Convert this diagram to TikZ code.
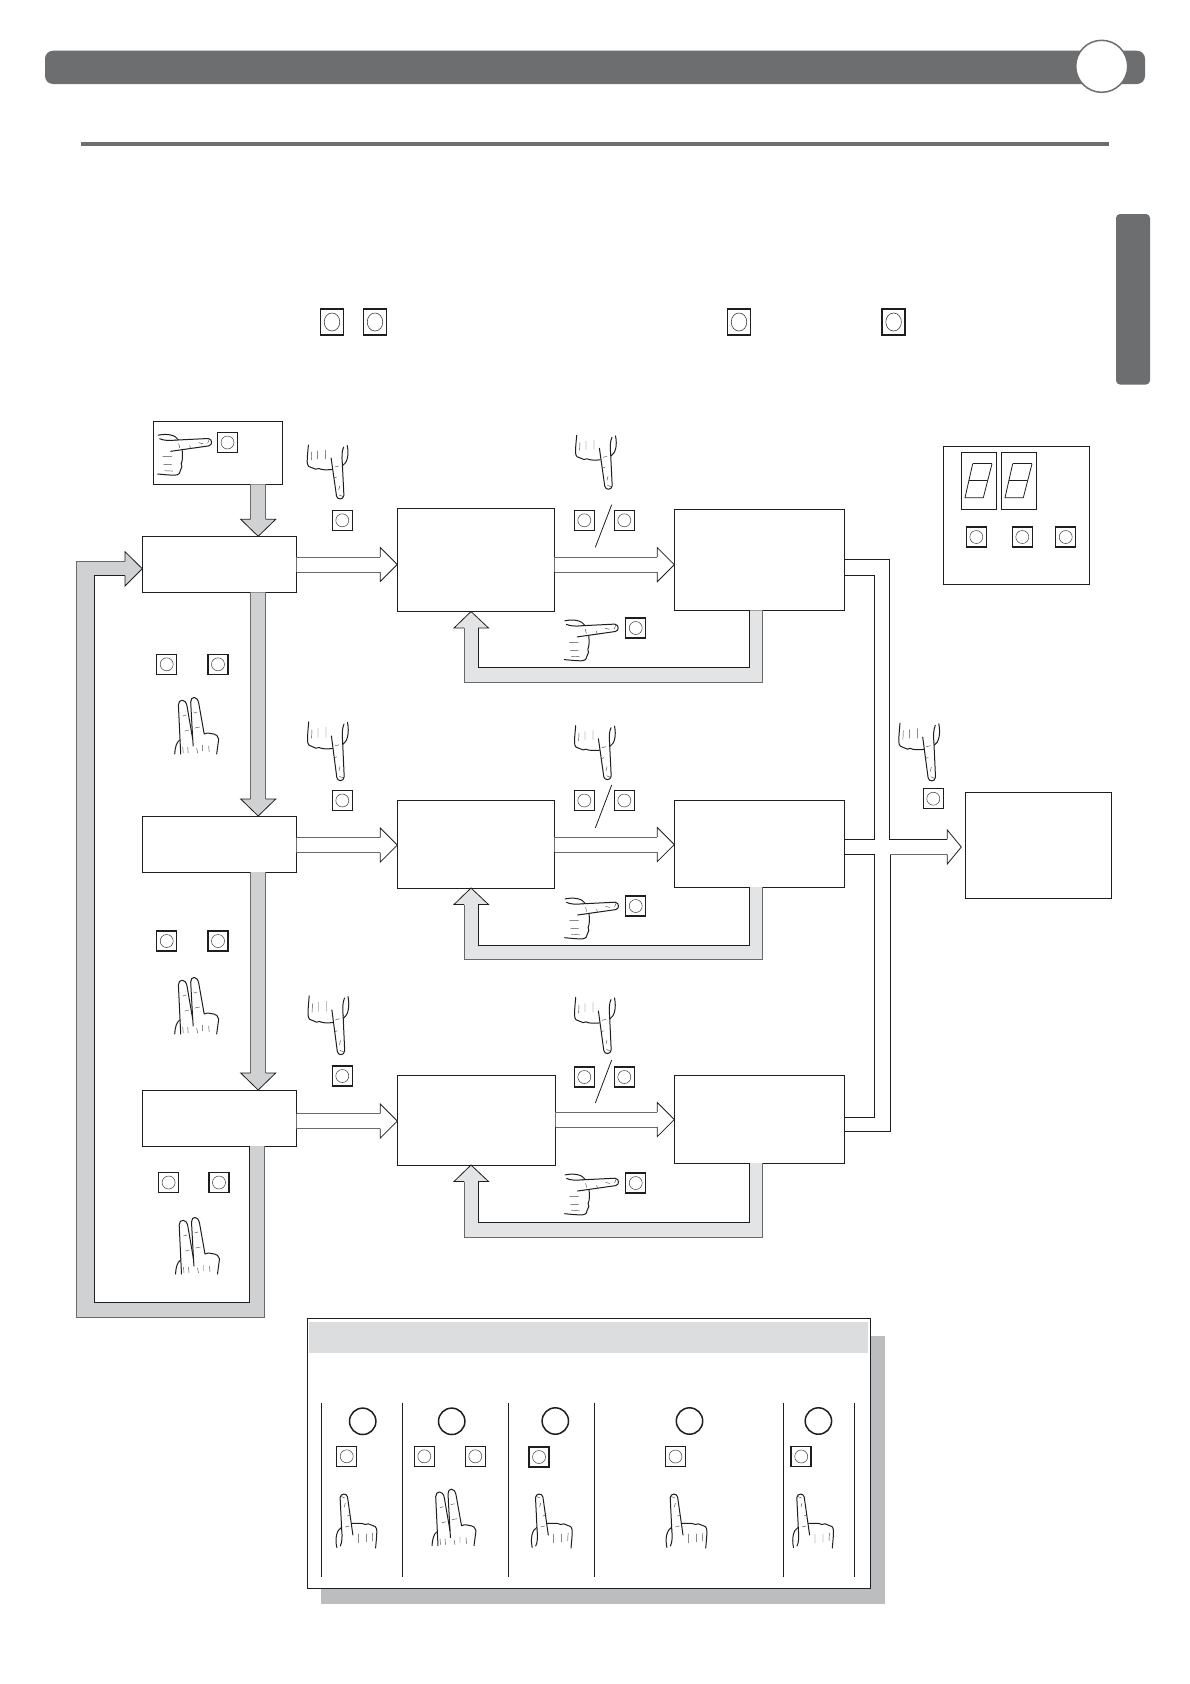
\documentclass[tikz,border=0pt]{standalone}
\usetikzlibrary{calc}
\definecolor{bargrey}{HTML}{6D6E70}
\definecolor{shaftgrey}{HTML}{CFD1D2}
\definecolor{lightgrey}{HTML}{E3E4E5}
\definecolor{edgegrey}{HTML}{6A6A6A}
\definecolor{headgrey}{HTML}{DCDDDE}
\definecolor{shadowgrey}{HTML}{BBBDBF}
\definecolor{inkb}{HTML}{1E1E1E}
\tikzset{
  flowbox/.style={draw=inkb,line width=0.9pt,fill=white,inner sep=0pt,outer sep=0pt,rectangle},
  shaftline/.style={draw=edgegrey,line width=1pt},
  headline/.style={draw=inkb,line width=0.8pt,line join=miter},
  thinline/.style={draw=inkb,line width=0.9pt},
  handline/.style={draw=inkb,line width=1pt,line cap=round,line join=round,fill=none},
  handmark/.style={draw=inkb!80,line width=0.45pt,line cap=round},
  hand/.pic={
    \path[handline] (-32.3,-54) .. controls (-33,-46) and (-33.5,-42) .. (-33.5,-37)
       .. controls (-33.5,-33) and (-31,-31) .. (-28,-31)
       .. controls (-26,-29.5) and (-24,-29.5) .. (-22,-30.5)
       .. controls (-19,-29) and (-14,-29) .. (-8.6,-29.5);
    \path[handline] (-9.6,-41) -- (-4.2,-3) .. controls (-3.5,1) and (2.6,1) .. (3.2,-3.5) -- (1.6,-36);
    \path[handline] (6.5,-53.5) .. controls (8.5,-44) and (6.5,-36) .. (2,-33.5);
    \path[handline] (3,-52) .. controls (1,-48) and (1,-42) .. (1.6,-36);
    \path[handmark] (-29,-47)--(-29.4,-39) (-23,-48)--(-23,-40) (-15,-49)--(-15,-40)
       (-4,-22)--(-7,-21) (-2,-33)--(-6,-32) (-1.5,-4)--(2.2,-2.5) (-1,-13)--(-2,-9);
  },
  twohand/.pic={
    \path[handline] (-2,53) -- (-4.3,4) .. controls (-4.5,-2) and (3,-3) .. (4.3,5) -- (10,38) -- (10.5,45);
    \path[handline] (10,38) -- (8,1) .. controls (8,-5) and (14.5,-5.5) .. (16,2) -- (21.5,33)
       .. controls (25,31) and (29,33) .. (31,33) .. controls (33,33) and (35.5,35) .. (36,38) -- (34,53);
    \path[handline] (-8,53) .. controls (-7.6,46) and (-6,41) .. (-3,39);
    \path[handmark] (0,15)--(3.5,14) (11,12)--(14.5,11) (12,27)--(17,26) (2,30)--(6,29)
       (0,46)--(0.5,52) (14,47)--(15,52) (26,45)--(26.5,51) (5,46)--(5.5,52) (20,44)--(20,50);
  },
  butn/.pic={
    \draw[inkb,line width=1.5pt,fill=white] (-10,-10) rectangle (10,10);
    \draw[inkb!85,line width=0.5pt] (0,0) circle[radius=6.5];
  },
  bigbutn/.pic={
    \draw[inkb,line width=1.5pt,fill=white] (-11.5,-13) rectangle (11.5,13);
    \draw[inkb!85,line width=0.6pt] (0,0) ellipse[x radius=7.8,y radius=9];
  },
  ring/.pic={
    \draw[inkb,line width=1.5pt,fill=white] (0,0) circle[radius=13.2];
  },
}
% box by corners
\newcommand{\cbox}[5]{\node[flowbox,minimum width={((#4)-(#2))*1pt},minimum height={((#5)-(#3))*1pt}] (#1) at ({((#2)+(#4))/2},{((#3)+(#5))/2}) {};}
% horizontal block arrow from node to node at height y
\newcommand{\hblock}[3]{%
  \coordinate (tipH) at (#2.west |- 0,#3);
  \coordinate (stH) at (#1.east |- 0,#3);
  \fill[white] ([shift={(0,-7.5)}]stH) -- ([shift={(-17,-7.5)}]tipH) -- ([shift={(-17,-17)}]tipH) -- (tipH) -- ([shift={(-17,17)}]tipH) -- ([shift={(-17,7.5)}]tipH) -- ([shift={(0,7.5)}]stH) -- cycle;
  \path[shaftline] ([shift={(0,-7.5)}]stH) -- ([shift={(-17,-7.5)}]tipH) ([shift={(0,7.5)}]stH) -- ([shift={(-17,7.5)}]tipH);
  \path[headline] ([shift={(-17,-7.5)}]tipH) -- ([shift={(-17,-17)}]tipH) -- (tipH) -- ([shift={(-17,17)}]tipH) -- ([shift={(-17,7.5)}]tipH);
}
% vertical grey arrow from node to node
\newcommand{\vblock}[2]{%
  \coordinate (tipV) at (258.2,0 |- #2.north);
  \coordinate (stV) at (258.2,0 |- #1.south);
  \fill[shaftgrey] ([shift={(-7.5,0)}]stV) -- ([shift={(-7.5,-17)}]tipV) -- ([shift={(-17.5,-17)}]tipV) -- (tipV) -- ([shift={(17.5,-17)}]tipV) -- ([shift={(7.5,-17)}]tipV) -- ([shift={(7.5,0)}]stV) -- cycle;
  \path[shaftline] ([shift={(-7.5,0)}]stV) -- ([shift={(-7.5,-17)}]tipV) ([shift={(7.5,0)}]stV) -- ([shift={(7.5,-17)}]tipV);
  \path[headline] ([shift={(-7.5,-17)}]tipV) -- ([shift={(-17.5,-17)}]tipV) -- (tipV) -- ([shift={(17.5,-17)}]tipV) -- ([shift={(7.5,-17)}]tipV);
}
% return arrow from node 1 (C) back to node 2 (B), inner and outer y
\newcommand{\retarrow}[4]{%
  \coordinate (rs) at (755.6,0 |- #1.south);
  \coordinate (rt) at (471,0 |- #2.south);
  \fill[lightgrey] ([shift={(-6.6,0)}]rs) -- (749,#3) -- (478,#3) -- ([shift={(7,16.5)}]rt) -- ([shift={(17.5,16.5)}]rt) -- (rt) -- ([shift={(-17,16.5)}]rt) -- ([shift={(-7,16.5)}]rt) -- (464,#4) -- (762.3,#4) -- ([shift={(6.7,0)}]rs) -- cycle;
  \path[thinline] ([shift={(-6.6,0)}]rs) -- (749,#3) -- (478,#3) -- ([shift={(7,16.5)}]rt);
  \path[shaftline] ([shift={(-7,16.5)}]rt) -- (464,#4) -- (762.3,#4) -- ([shift={(6.7,0)}]rs);
  \path[headline] ([shift={(7,16.5)}]rt) -- ([shift={(17.5,16.5)}]rt) -- (rt) -- ([shift={(-17,16.5)}]rt) -- ([shift={(-7,16.5)}]rt);
}
\newcommand{\ssdigit}[1]{%
  \begin{scope}[shift={(#1,0)}]
    \draw[inkb,line width=0.8pt] (969.3,480.7) -- (987.3,480.7);
    \draw[inkb,line width=0.8pt] (972.7,463.7) -- (965,497.7) -- (983.3,497.7) -- (992,463.7);
    \draw[inkb,line width=1.5pt] (972.7,463.7) -- (992,463.7);
  \end{scope}
}
\begin{document}
\begin{tikzpicture}[x=1pt,y=-1pt]
\useasboundingbox (0,0) rectangle (1190,1684);
\fill[white] (0,0) rectangle (1190,1684);
% header
\fill[bargrey,rounded corners=8pt] (45,50.7) rectangle (1145,84);
\draw[bargrey,line width=1.5pt,fill=white] (1101.7,66.3) circle[radius=26];
\draw[bargrey,line width=3.4pt] (80.5,144) -- (1109,144);
\fill[bargrey,rounded corners=4pt] (1116,214) rectangle (1150,384.5);
% top row buttons
\pic at (332,322) {bigbutn};
\pic at (375,322) {bigbutn};
\pic at (739,322) {bigbutn};
\pic at (893.6,322) {bigbutn};
% boxes
\cbox{S}{153.3}{421.3}{282.3}{484.3}
\cbox{A}{142.3}{536.3}{296.7}{592.3}
\cbox{A2}{142.3}{816}{296.7}{872}
\cbox{A3}{142.3}{1090}{296.7}{1146}
\cbox{B}{397.3}{508.3}{554.7}{611.5}
\cbox{C}{674.3}{509.3}{844.3}{610.3}
\cbox{B2}{397.3}{800}{554.7}{888}
\cbox{C2}{674.3}{800}{844.3}{887}
\cbox{B3}{397.3}{1075}{555.7}{1165}
\cbox{C3}{674.3}{1075}{844.3}{1163}
\cbox{O}{965.3}{792.3}{1111.7}{898.3}
\cbox{D}{943.3}{446.3}{1089.3}{584.3}
\cbox{D1}{961.3}{452.3}{996.7}{509.7}
\cbox{D2}{1001.3}{452.3}{1036.7}{509.7}
\ssdigit{0}
\ssdigit{40}
\pic at (976.3,537) {butn};
\pic at (1022.3,537) {butn};
\pic at (1065.7,537) {butn};
% vertical grey arrows
\vblock{S}{A}
\vblock{A}{A2}
\vblock{A2}{A3}
% big return
\coordinate (bt) at (A.west |- 0,568.7);
\fill[shaftgrey] (249.3,0 |- A3.south) -- (249.3,1302) -- (94.3,1302) -- (94.3,575.7) -- (125,575.7) -- (125,586) -- (bt) -- (125,551.7) -- (125,561.3) -- (76.7,561.3) -- (76.7,1317) -- (264.3,1317) -- (264.3,0 |- A3.south) -- cycle;
\path[thinline] (249.3,0 |- A3.south) -- (249.3,1302) -- (94.3,1302) -- (94.3,575.7) -- (125,575.7);
\path[shaftline] (125,561.3) -- (76.7,561.3) -- (76.7,1317) -- (264.3,1317) -- (264.3,0 |- A3.south);
\path[headline] (125,575.7) -- (125,586) -- (bt) -- (125,551.7) -- (125,561.3);
% horizontal white arrows
\hblock{A}{B}{564.5}
\hblock{B}{C}{564.7}
\hblock{A2}{B2}{845}
\hblock{B2}{C2}{844.5}
\hblock{A3}{B3}{1121}
\hblock{B3}{C3}{1119.5}
% returns
\retarrow{C}{B}{667.7}{682.3}
\retarrow{C2}{B2}{945}{959}
\retarrow{C3}{B3}{1222}{1237}
% merge lines
\path[thinline] (C.east |- 0,575.3) -- (874.3,575.3) -- (874.3,839.3) -- (C2.east |- 0,839.3);
\path[thinline] (C.east |- 0,559.3) -- (889.3,559.3) -- (889.3,839.3) -- (947.3,839.3);
\path[thinline] (C2.east |- 0,854.3) -- (874.3,854.3) -- (874.3,1117) -- (C3.east |- 0,1117);
\path[thinline] (C3.east |- 0,1131) -- (890.3,1131) -- (890.3,854.3);
\path[shaftline] (890.3,854.3) -- (947.3,854.3);
\coordinate (otip) at (O.west |- 0,847);
\path[headline] (947.3,839.3) -- (947.3,830) -- ([shift={(-4,0)}]otip) -- (947.3,864) -- (947.3,854.3);
% hands pointing down
\pic at (340.7,499) {hand};
\pic at (609,489.3) {hand};
\pic[yscale=1.09] at (341,780.7) {hand};
\pic at (608,779.7) {hand};
\pic[yscale=1.09] at (341.5,1054.7) {hand};
\pic[yscale=1.04] at (608,1053.6) {hand};
\pic[yscale=1.07] at (932.3,781) {hand};
% hands pointing right
\pic[rotate=90] at (211.7,441.7) {hand};
\pic[rotate=90] at (618.3,627.3) {hand};
\pic[rotate=90] at (618.6,905.4) {hand};
\pic[rotate=90] at (618.6,1181.4) {hand};
% buttons of flow
\pic at (227.5,442.5) {butn};
\pic at (342.3,520.3) {butn};
\pic at (584.3,520.3) {butn};
\pic at (624.3,520.3) {butn};
\pic at (635.7,628) {butn};
\draw[inkb,line width=0.8pt] (611.7,504.7) -- (595.3,547.3);
\pic at (342.3,800.5) {butn};
\pic at (584.3,800.5) {butn};
\pic at (624.3,800.5) {butn};
\pic at (635.7,906) {butn};
\draw[inkb,line width=0.8pt] (611.7,785) -- (595.3,828);
\pic at (342.3,1076) {butn};
\pic at (584.3,1077) {butn};
\pic at (624.3,1077) {butn};
\pic at (635.7,1183) {butn};
\draw[inkb,line width=0.8pt] (611.7,1060) -- (595.3,1103);
\pic at (933.3,798.7) {butn};
% left column
\pic at (166.7,664.3) {butn};
\pic at (218,664.3) {butn};
\pic at (182.7,701) {twohand};
\pic at (166.7,941) {butn};
\pic at (218,941) {butn};
\pic at (182.7,981) {twohand};
\pic at (168.6,1182.5) {butn};
\pic at (219,1182.5) {butn};
\pic at (183.5,1221) {twohand};
% bottom panel
\fill[shadowgrey] (321,1336) rectangle (885,1604);
\node[flowbox,minimum width=562.7pt,minimum height=270pt] (P) at (588.65,1453.3) {};
\fill[headgrey] (309,1322.3) rectangle (868,1352.7);
\foreach \vx in {321.7,402.3,508.3,594.3,783,854}
  \draw[inkb,line width=0.8pt] (\vx,1402.7) -- (\vx,1576.7);
\pic at (362.7,1421.3) {ring};
\pic at (451.7,1421.3) {ring};
\pic at (555.3,1421) {ring};
\pic at (689.5,1421) {ring};
\pic at (818.4,1421) {ring};
\pic at (346.7,1456.3) {butn};
\pic at (424.3,1456.3) {butn};
\pic at (475.3,1456.3) {butn};
\pic at (539,1457) {butn};
\pic at (675.5,1456.5) {butn};
\pic at (801.2,1456.5) {butn};
\pic[rotate=180] at (343.3,1494) {hand};
\pic at (440,1492.7) {twohand};
\pic[rotate=180] at (538.7,1494) {hand};
\pic[rotate=180] at (673.4,1494) {hand};
\pic[rotate=180] at (800,1494) {hand};
\end{tikzpicture}
\end{document}
